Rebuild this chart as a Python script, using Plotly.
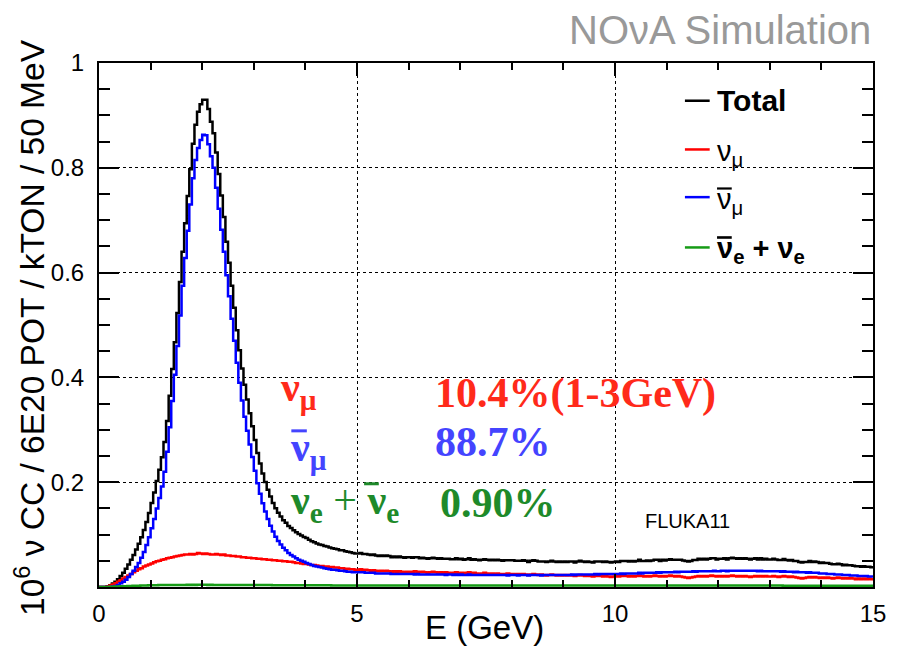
import numpy as np
import plotly.graph_objects as go

# ---------------- data (50 MeV bins, 0 - 15 GeV) ----------------
BIN_WIDTH = 0.05
E_MIN = 0.0

# anti-nu_mu CC, 0 - 5 GeV
numubar_low = [
    0.000, 0.000, 0.000, 0.000, 0.000, 0.001, 0.002, 0.004, 0.007, 0.010,
    0.014, 0.019, 0.025, 0.031, 0.038, 0.046, 0.056, 0.067, 0.080, 0.095,
    0.112, 0.130, 0.150, 0.170, 0.192, 0.220, 0.258, 0.305, 0.355, 0.405,
    0.460, 0.518, 0.575, 0.628, 0.680, 0.730, 0.780, 0.815, 0.838, 0.853,
    0.863, 0.862, 0.845, 0.822, 0.800, 0.762, 0.722, 0.682, 0.640, 0.595,
    0.555, 0.512, 0.470, 0.428, 0.390, 0.356, 0.325, 0.298, 0.272, 0.248,
    0.222, 0.198, 0.178, 0.160, 0.144, 0.130, 0.117, 0.106, 0.096, 0.088,
    0.081, 0.075, 0.070, 0.065, 0.061, 0.058, 0.055, 0.052, 0.050, 0.048,
    0.046, 0.044, 0.042, 0.040, 0.039, 0.038, 0.037, 0.036, 0.035, 0.034,
    0.033, 0.033, 0.032, 0.031, 0.031, 0.030, 0.029, 0.029, 0.028, 0.028,
]
# anti-nu_mu CC, 5 - 15 GeV
numubar_tail = [
    0.028, 0.028, 0.028, 0.027, 0.027, 0.027, 0.027, 0.026, 0.026, 0.026, 0.026, 0.026, 0.026, 0.025, 0.025, 0.025, 0.025, 0.025, 0.025, 0.025,
    0.025, 0.025, 0.024, 0.025, 0.024, 0.024, 0.024, 0.024, 0.024, 0.024, 0.024, 0.024, 0.024, 0.024, 0.023, 0.024, 0.024, 0.023, 0.024, 0.023,
    0.024, 0.023, 0.023, 0.024, 0.023, 0.023, 0.023, 0.023, 0.023, 0.023, 0.023, 0.023, 0.023, 0.023, 0.023, 0.023, 0.023, 0.023, 0.022, 0.023,
    0.023, 0.023, 0.022, 0.023, 0.023, 0.023, 0.022, 0.023, 0.023, 0.023, 0.023, 0.022, 0.023, 0.023, 0.023, 0.023, 0.023, 0.023, 0.023, 0.023,
    0.023, 0.023, 0.023, 0.024, 0.023, 0.024, 0.024, 0.024, 0.024, 0.024, 0.024, 0.024, 0.025, 0.024, 0.025, 0.025, 0.025, 0.025, 0.025, 0.025,
    0.025, 0.025, 0.026, 0.025, 0.026, 0.026, 0.026, 0.026, 0.026, 0.027, 0.026, 0.027, 0.027, 0.027, 0.027, 0.027, 0.028, 0.027, 0.028, 0.028,
    0.028, 0.028, 0.028, 0.029, 0.028, 0.029, 0.029, 0.029, 0.029, 0.029, 0.030, 0.029, 0.030, 0.030, 0.030, 0.030, 0.030, 0.030, 0.031, 0.030,
    0.030, 0.031, 0.031, 0.030, 0.031, 0.031, 0.031, 0.031, 0.031, 0.031, 0.031, 0.031, 0.031, 0.031, 0.031, 0.030, 0.031, 0.030, 0.030, 0.030,
    0.030, 0.030, 0.030, 0.030, 0.029, 0.030, 0.029, 0.029, 0.029, 0.028, 0.029, 0.028, 0.028, 0.028, 0.027, 0.028, 0.027, 0.027, 0.027, 0.026,
    0.026, 0.026, 0.025, 0.025, 0.025, 0.024, 0.024, 0.024, 0.023, 0.023, 0.023, 0.022, 0.022, 0.022, 0.021, 0.021, 0.021, 0.021, 0.020, 0.020,
]

# nu_mu CC, 0 - 5 GeV
numu_low = [
    0.000, 0.000, 0.000, 0.001, 0.003, 0.005, 0.007, 0.010, 0.013, 0.016,
    0.019, 0.022, 0.025, 0.028, 0.031, 0.034, 0.036, 0.039, 0.041, 0.043,
    0.045, 0.047, 0.049, 0.050, 0.052, 0.053, 0.055, 0.056, 0.057, 0.058,
    0.059, 0.060, 0.061, 0.062, 0.062, 0.063, 0.062, 0.063, 0.065, 0.064,
    0.063, 0.064, 0.063, 0.062, 0.062, 0.063, 0.062, 0.061, 0.062, 0.060,
    0.060, 0.059, 0.059, 0.058, 0.058, 0.057, 0.057, 0.056, 0.056, 0.055,
    0.055, 0.054, 0.054, 0.053, 0.053, 0.052, 0.052, 0.051, 0.051, 0.050,
    0.050, 0.049, 0.049, 0.048, 0.048, 0.047, 0.046, 0.046, 0.045, 0.044,
    0.044, 0.043, 0.042, 0.042, 0.041, 0.040, 0.040, 0.039, 0.039, 0.038,
    0.038, 0.037, 0.037, 0.036, 0.036, 0.035, 0.035, 0.034, 0.034, 0.033,
]
# nu_mu CC, 5 - 15 GeV
numu_tail = [
    0.033, 0.034, 0.032, 0.033, 0.032, 0.031, 0.032, 0.031, 0.030, 0.031, 0.030, 0.031, 0.030, 0.029, 0.030, 0.029, 0.030, 0.029, 0.028, 0.029,
    0.029, 0.028, 0.030, 0.029, 0.028, 0.029, 0.028, 0.027, 0.028, 0.029, 0.028, 0.027, 0.028, 0.027, 0.028, 0.027, 0.026, 0.027, 0.028, 0.027,
    0.027, 0.026, 0.027, 0.028, 0.026, 0.027, 0.026, 0.025, 0.026, 0.027, 0.026, 0.025, 0.026, 0.025, 0.026, 0.025, 0.024, 0.025, 0.026, 0.025,
    0.025, 0.024, 0.025, 0.024, 0.025, 0.024, 0.023, 0.024, 0.025, 0.024, 0.023, 0.024, 0.023, 0.022, 0.023, 0.024, 0.023, 0.022, 0.023, 0.022,
    0.023, 0.022, 0.023, 0.022, 0.021, 0.022, 0.023, 0.022, 0.021, 0.022, 0.021, 0.020, 0.021, 0.022, 0.021, 0.020, 0.021, 0.020, 0.019, 0.020,
    0.021, 0.020, 0.021, 0.022, 0.021, 0.020, 0.021, 0.020, 0.021, 0.022, 0.021, 0.020, 0.021, 0.020, 0.021, 0.022, 0.021, 0.020, 0.021, 0.020,
    0.021, 0.022, 0.021, 0.020, 0.021, 0.020, 0.019, 0.018, 0.017, 0.018, 0.019, 0.020, 0.021, 0.020, 0.021, 0.020, 0.021, 0.022, 0.021, 0.020,
    0.021, 0.020, 0.021, 0.020, 0.021, 0.022, 0.021, 0.020, 0.021, 0.020, 0.021, 0.020, 0.019, 0.020, 0.021, 0.020, 0.021, 0.020, 0.021, 0.020,
    0.020, 0.021, 0.020, 0.019, 0.020, 0.021, 0.020, 0.019, 0.020, 0.019, 0.018, 0.017, 0.016, 0.017, 0.018, 0.019, 0.018, 0.019, 0.018, 0.017,
    0.018, 0.017, 0.018, 0.017, 0.016, 0.017, 0.018, 0.017, 0.016, 0.017, 0.016, 0.017, 0.016, 0.015, 0.016, 0.015, 0.016, 0.015, 0.016, 0.015,
]

# nu_e + anti-nu_e CC, 0 - 5 GeV
nue_low = [
    0.0000, 0.0000, 0.0000, 0.0002, 0.0004, 0.0006, 0.0008, 0.0010, 0.0012, 0.0014,
    0.0016, 0.0018, 0.0020, 0.0022, 0.0024, 0.0026, 0.0028, 0.0030, 0.0031, 0.0032,
    0.0033, 0.0034, 0.0035, 0.0036, 0.0037, 0.0038, 0.0038, 0.0039, 0.0039, 0.0040,
    0.0040, 0.0040, 0.0040, 0.0040, 0.0041, 0.0040, 0.0041, 0.0040, 0.0041, 0.0041,
    0.0041, 0.0041, 0.0040, 0.0041, 0.0040, 0.0040, 0.0040, 0.0040, 0.0039, 0.0040,
    0.0039, 0.0039, 0.0039, 0.0038, 0.0039, 0.0038, 0.0038, 0.0038, 0.0037, 0.0038,
    0.0037, 0.0037, 0.0037, 0.0036, 0.0036, 0.0036, 0.0036, 0.0035, 0.0035, 0.0035,
    0.0035, 0.0035, 0.0034, 0.0034, 0.0034, 0.0034, 0.0034, 0.0033, 0.0033, 0.0033,
    0.0033, 0.0033, 0.0033, 0.0032, 0.0032, 0.0032, 0.0032, 0.0032, 0.0032, 0.0032,
    0.0031, 0.0031, 0.0031, 0.0031, 0.0031, 0.0031, 0.0031, 0.0031, 0.0030, 0.0030,
]
# nu_e + anti-nu_e CC, 5 - 15 GeV
nue_tail = [
    0.0030, 0.0030, 0.0030, 0.0030, 0.0030, 0.0030, 0.0030, 0.0030, 0.0030, 0.0030, 0.0030, 0.0030, 0.0030, 0.0030, 0.0030, 0.0030, 0.0030, 0.0030, 0.0030, 0.0030,
    0.0030, 0.0030, 0.0030, 0.0030, 0.0030, 0.0030, 0.0030, 0.0030, 0.0030, 0.0030, 0.0030, 0.0030, 0.0030, 0.0030, 0.0030, 0.0030, 0.0030, 0.0030, 0.0030, 0.0030,
    0.0030, 0.0030, 0.0030, 0.0030, 0.0030, 0.0030, 0.0030, 0.0030, 0.0030, 0.0030, 0.0029, 0.0029, 0.0029, 0.0029, 0.0029, 0.0029, 0.0029, 0.0029, 0.0029, 0.0029,
    0.0029, 0.0029, 0.0029, 0.0029, 0.0029, 0.0029, 0.0029, 0.0029, 0.0029, 0.0029, 0.0029, 0.0029, 0.0029, 0.0029, 0.0029, 0.0029, 0.0029, 0.0029, 0.0029, 0.0029,
    0.0029, 0.0029, 0.0029, 0.0029, 0.0029, 0.0029, 0.0029, 0.0029, 0.0029, 0.0029, 0.0028, 0.0028, 0.0028, 0.0028, 0.0028, 0.0028, 0.0028, 0.0028, 0.0028, 0.0028,
    0.0028, 0.0028, 0.0028, 0.0028, 0.0028, 0.0028, 0.0028, 0.0028, 0.0028, 0.0028, 0.0028, 0.0028, 0.0028, 0.0028, 0.0028, 0.0028, 0.0028, 0.0028, 0.0028, 0.0028,
    0.0028, 0.0028, 0.0028, 0.0028, 0.0028, 0.0028, 0.0028, 0.0028, 0.0028, 0.0028, 0.0027, 0.0027, 0.0027, 0.0027, 0.0027, 0.0027, 0.0027, 0.0027, 0.0027, 0.0027,
    0.0027, 0.0027, 0.0027, 0.0027, 0.0027, 0.0027, 0.0027, 0.0027, 0.0027, 0.0027, 0.0027, 0.0027, 0.0027, 0.0027, 0.0027, 0.0027, 0.0027, 0.0027, 0.0027, 0.0027,
    0.0027, 0.0027, 0.0027, 0.0027, 0.0027, 0.0026, 0.0026, 0.0026, 0.0026, 0.0026, 0.0026, 0.0026, 0.0026, 0.0026, 0.0026, 0.0026, 0.0026, 0.0026, 0.0026, 0.0026,
    0.0026, 0.0026, 0.0026, 0.0026, 0.0026, 0.0025, 0.0025, 0.0025, 0.0025, 0.0025, 0.0025, 0.0025, 0.0025, 0.0025, 0.0025, 0.0025, 0.0025, 0.0025, 0.0025, 0.0025,
]

numubar = numubar_low + numubar_tail
numu = numu_low + numu_tail
nue = nue_low + nue_tail
assert len(numubar) == len(numu) == len(nue) == 300

x_ticks = [0, 5, 10, 15]
x_ticklabels = ["0", "5", "10", "15"]
y_ticks = [0.2, 0.4, 0.6, 0.8, 1.0]
y_ticklabels = ["0.2", "0.4", "0.6", "0.8", "1"]

# ---------------- build figure ----------------
n = len(numu)
edges = E_MIN + BIN_WIDTH * np.arange(n + 1)
total = (np.array(numu) + np.array(numubar) + np.array(nue)).tolist()


def step_y(vals):
    return list(vals) + [vals[-1]]


fig = go.Figure()
series = [
    ("Total", total, "#000000"),
    ("numu", numu, "#ff0000"),
    ("numubar", numubar, "#0000ff"),
    ("nue", nue, "#169b16"),
]
for name, vals, col in series:
    fig.add_trace(go.Scatter(
        x=edges, y=step_y(vals), mode="lines", name=name,
        line=dict(color=col, width=2.5, shape="hv"),
        showlegend=False, hoverinfo="skip",
    ))

SANS = "Liberation Sans, Arial, Helvetica, sans-serif"
SERIF = "Liberation Serif, Times New Roman, serif"

axis_common = dict(
    showline=True, linecolor="black", linewidth=2, mirror="allticks",
    ticks="inside", tickcolor="black", tickwidth=1.5,
    showgrid=True, gridcolor="black", gridwidth=1, griddash="dot",
    zeroline=False, tickfont=dict(family=SANS, size=24, color="black"),
)

fig.update_xaxes(
    range=[0, 15], tickmode="array", tickvals=x_ticks, ticktext=x_ticklabels,
    ticklen=13, ticklabelstandoff=4,
    minor=dict(dtick=1, tick0=0, ticks="inside", ticklen=7, tickwidth=1.5,
               tickcolor="black", showgrid=False),
    **axis_common,
)
fig.update_yaxes(
    range=[0, 1], tickmode="array", tickvals=y_ticks, ticktext=y_ticklabels,
    ticklen=20, ticklabelstandoff=8,
    minor=dict(dtick=0.05, tick0=0, ticks="inside", ticklen=11, tickwidth=1.5,
               tickcolor="black", showgrid=False),
    **axis_common,
)

annotations = []
shapes = []

# axis titles
annotations.append(dict(text="E (GeV)", x=0.4987, y=-0.078, xref="paper", yref="paper",
                        showarrow=False, xanchor="center", yanchor="middle",
                        font=dict(family=SANS, size=33, color="black")))
annotations.append(dict(text="10<sup>6</sup> ν CC / 6E20 POT / kTON / 50 MeV",
                        x=-0.090, y=0.495, xref="paper", yref="paper", textangle=-90,
                        showarrow=False, xanchor="center", yanchor="middle",
                        font=dict(family=SANS, size=33.5, color="black")))
# NOvA Simulation
annotations.append(dict(text="NOνA Simulation", x=1.0, y=1.063, xref="paper", yref="paper",
                        showarrow=False, xanchor="right", yanchor="middle",
                        font=dict(family=SANS, size=40, color="#999999")))

# legend (manual, ROOT style)
leg_rows = [
    ("<b>Total</b>", "#000000", 0.928, 30, 0),
    ("ν<sub>μ</sub>", "#ff0000", 0.835, 29, -4),
    ("ν<sub>μ</sub>", "#0000ff", 0.744, 29, -4),
    ("<b>ν<sub>e</sub> + ν<sub>e</sub></b>", "#169b16", 0.648, 29, -3),
]
for txt, col, yy, fs, ysh in leg_rows:
    shapes.append(dict(type="line", xref="paper", yref="paper", x0=0.757, x1=0.789,
                       y0=yy, y1=yy, line=dict(color=col, width=2.5)))
    annotations.append(dict(text=txt, x=0.796, y=yy, xref="paper", yref="paper",
                            showarrow=False, xanchor="left", yanchor="middle", yshift=ysh,
                            font=dict(family=SANS, size=fs, color="black")))
# overbars for anti-neutrinos in legend
shapes.append(dict(type="line", xref="paper", yref="paper", x0=0.7985, x1=0.8175,
                   y0=0.7605, y1=0.7605, line=dict(color="black", width=2.2)))
shapes.append(dict(type="line", xref="paper", yref="paper", x0=0.7985, x1=0.8175,
                   y0=0.667, y1=0.667, line=dict(color="black", width=2.6)))

RED_T = "#ff2a1a"
BLUE_T = "#4444ff"
GREEN_T = "#1e8a2a"
in_plot = [
    ("<b>ν<sub>μ</sub></b>", 0.231, 0.3755, RED_T),
    ("<b>10.4%(1-3GeV)</b>", 0.4315, 0.369, RED_T),
    ("<b>ν<sub>μ</sub></b>", 0.244, 0.261, BLUE_T),
    ("<b>88.7%</b>", 0.4315, 0.277, BLUE_T),
    ("<b>ν<sub>e</sub></b> + <b>ν<sub>e</sub></b>", 0.244, 0.160, GREEN_T),
    ("<b>0.90%</b>", 0.438, 0.160, GREEN_T),
]
for txt, xx, yy, col in in_plot:
    annotations.append(dict(text=txt, x=xx, y=yy, xref="paper", yref="paper",
                            showarrow=False, xanchor="left", yanchor="middle",
                            font=dict(family=SERIF, size=42, color=col)))
# overbars for anti-neutrinos in the plot text
shapes.append(dict(type="line", xref="paper", yref="paper", x0=0.2485, x1=0.2685,
                   y0=0.298, y1=0.298, line=dict(color=BLUE_T, width=3)))
shapes.append(dict(type="line", xref="paper", yref="paper", x0=0.3425, x1=0.3615,
                   y0=0.197, y1=0.197, line=dict(color=GREEN_T, width=3)))

annotations.append(dict(text="FLUKA11", x=0.703, y=0.126, xref="paper", yref="paper",
                        showarrow=False, xanchor="left", yanchor="middle",
                        font=dict(family=SANS, size=20, color="black")))

# the page adds an 8 px body margin, so the figure is sized to fit the window
fig.update_layout(
    width=894, height=648,
    margin=dict(l=91, r=29, t=55, b=69),
    paper_bgcolor="white", plot_bgcolor="white",
    annotations=annotations, shapes=shapes,
    showlegend=False,
)

fig.write_html("out.html")
